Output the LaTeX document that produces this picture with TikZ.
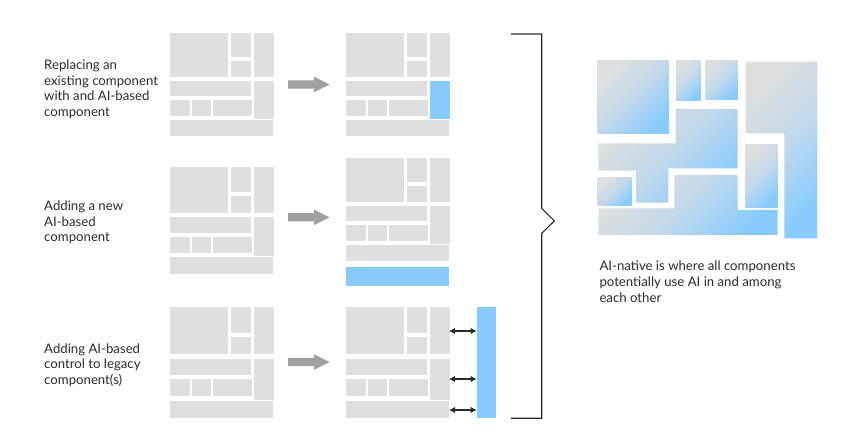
\documentclass[tikz,border=0pt]{standalone}
\usepackage{fontspec}
\setmainfont{Lato}
\usetikzlibrary{arrows.meta}
\definecolor{compgray}{HTML}{DFDFDF}
\definecolor{aiblue}{HTML}{87CBFF}
\definecolor{arrowgray}{HTML}{A0A0A0}
\definecolor{inkgray}{HTML}{2B2B2B}
\tikzset{legacy/.pic={\foreach \a/\b/\c/\d in {0/0/58/44,61/0/81/24,61/28/81/44,84/0/104/44,0/48/81/63,84/48/104/86,0/67/20/83,21.5/67/41/83,43/67/82/83,0/87/103/103}{\fill[compgray] (\a,\b) rectangle (\c,\d);}}}

\begin{document}
\begin{tikzpicture}[x=1pt,y=-1pt,>={Latex[length=6pt,width=6.5pt]},
  desc/.style={anchor=base west,align=left,inner sep=0,text=inkgray,font=\fontsize{13.2}{15.5}\selectfont},
  aipart/.style={top color=compgray,bottom color=aiblue,middle color=compgray!65!aiblue,shading angle=45}]
\useasboundingbox (0,0) rectangle (855,443);
% three ways in
\pic at (170,33) {legacy};\pic at (346,33) {legacy};\fill[aiblue] (430,81) rectangle (450,119);
\pic[yscale=1.04] at (170,167) {legacy};\pic at (346,158) {legacy};\fill[aiblue] (346,266.7) rectangle (449,286);
\pic[yscale=1.078] at (170,307) {legacy};\pic[yscale=1.078] at (346,307) {legacy};
\node[fill=aiblue,minimum width=19.3,minimum height=111.6,inner sep=0,anchor=north west] (ctrl) at (476.7,306.7) {};
\foreach \y in {331,379,410}{\coordinate (e\y) at (449,\y);\draw[<->,line width=1.1,inkgray] (e\y)--(e\y -| ctrl.west);}
\foreach \y in {84.5,217.3,362}{\fill[arrowgray] (288,\y-4.2)--++(26,0)--++(0,-3.6)--(329.5,\y)--(314,\y+7.8)--++(0,-3.6)--(288,\y+4.2)--cycle;}
% base of the last line
\node[desc] (replace) at (44,116.5) {Replacing an\\existing component\\with and AI-based\\component};
\node[desc] (addnew) at (44,241.7) {Adding a new\\AI-based\\component};
\node[desc] (addctrl) at (44,384.3) {Adding AI-based\\control to legacy\\component(s)};
% brace
\draw[inkgray,line width=1.1] (511,34)--(541.7,34)--(541.7,208.3)--(554.3,221)--(541.7,233.3)--(541.7,418.3)--(511,418.3);
% ai-native
\shade[aipart] (597.7,60.7) rectangle (669,134);
\shade[aipart] (676,60.7) rectangle (700.7,101);
\shade[aipart] (705.7,60.7) rectangle (737.7,100);
\shade[aipart] (745.7,61.7)--(817.3,61.7)--(817.3,238.3)--(784.3,238.3)--(784.3,133.3)--(745.7,133.3)--cycle;
\shade[aipart] (598.3,143.3)--(675.7,143.3)--(675.7,109)--(737.7,109)--(737.7,168.3)--(668.3,168.3)--(668.3,202.7)--(636,202.7)--(636,170.7)--(598.3,170.7)--cycle;
\shade[aipart] (597.7,177.7) rectangle (632,205.7);
\shade[aipart] (745.7,144.3) rectangle (777.7,207.7);
\shade[aipart] (598.3,208.3)--(674.3,208.3)--(674.3,175)--(737.7,175)--(737.7,210)--(777.7,210)--(777.7,235)--(598.3,235)--cycle;
\node[desc,font=\fontsize{13.2}{16}\selectfont] (native) at (599.3,302.7) {AI-native is where all components\\potentially use AI in and among\\each other};
\end{tikzpicture}
\end{document}
